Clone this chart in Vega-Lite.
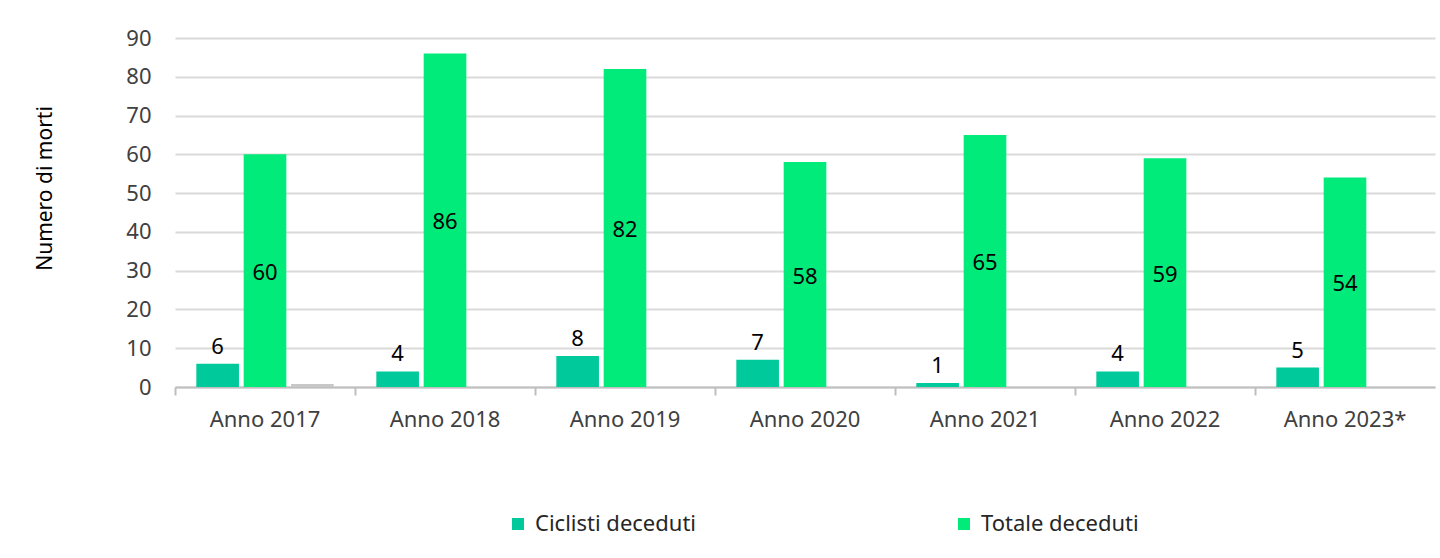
{
  "$schema": "https://vega.github.io/schema/vega-lite/v6.json",
  "width": 1260,
  "height": 349,
  "autosize": {"type": "none"},
  "padding": {"left": 175, "top": 38, "right": 5, "bottom": 171},
  "background": "white",
  "config": {"font": "Noto Sans", "view": {"stroke": null}},
  "data": {
    "values": [
      {"anno": "Anno 2017", "serie": "Ciclisti deceduti", "valore": 6},
      {"anno": "Anno 2017", "serie": "Totale deceduti", "valore": 60},
      {"anno": "Anno 2017", "serie": "Altro", "valore": 0.8},
      {"anno": "Anno 2018", "serie": "Ciclisti deceduti", "valore": 4},
      {"anno": "Anno 2018", "serie": "Totale deceduti", "valore": 86},
      {"anno": "Anno 2019", "serie": "Ciclisti deceduti", "valore": 8},
      {"anno": "Anno 2019", "serie": "Totale deceduti", "valore": 82},
      {"anno": "Anno 2020", "serie": "Ciclisti deceduti", "valore": 7},
      {"anno": "Anno 2020", "serie": "Totale deceduti", "valore": 58},
      {"anno": "Anno 2021", "serie": "Ciclisti deceduti", "valore": 1},
      {"anno": "Anno 2021", "serie": "Totale deceduti", "valore": 65},
      {"anno": "Anno 2022", "serie": "Ciclisti deceduti", "valore": 4},
      {"anno": "Anno 2022", "serie": "Totale deceduti", "valore": 59},
      {"anno": "Anno 2023*", "serie": "Ciclisti deceduti", "valore": 5},
      {"anno": "Anno 2023*", "serie": "Totale deceduti", "valore": 54}
    ]
  },
  "resolve": {"scale": {"y": "independent"}, "axis": {"y": "independent"}},
  "encoding": {
    "x": {
      "field": "anno",
      "type": "nominal",
      "sort": null,
      "scale": {"paddingInner": 0, "paddingOuter": 0},
      "axis": {
        "title": null,
        "labelAngle": 0,
        "labelFontSize": 22,
        "labelColor": "#404040",
        "labelPadding": 14,
        "domainColor": "#bfbfbf",
        "domainWidth": 2,
        "tickColor": "#bfbfbf",
        "tickWidth": 2,
        "tickSize": 8,
        "bandPosition": 0,
        "grid": false
      }
    },
    "xOffset": {
      "field": "serie",
      "type": "nominal",
      "scale": {
        "domain": ["Ciclisti deceduti", "Totale deceduti", "Altro"],
        "paddingInner": 0.1,
        "paddingOuter": 0.45
      }
    }
  },
  "layer": [
    {
      "mark": {"type": "bar"},
      "encoding": {
        "y": {
          "field": "valore",
          "type": "quantitative",
          "scale": {"domain": [0, 90], "nice": false},
          "axis": {
            "values": [0, 10, 20, 30, 40, 50, 60, 70, 80, 90],
            "tickCount": 10,
            "grid": true,
            "gridColor": "#d9d9d9",
            "gridWidth": 2,
            "domain": false,
            "ticks": false,
            "labelPadding": 24,
            "labelFontSize": 22,
            "labelColor": "#404040",
            "labelOverlap": false,
            "title": "Numero di morti",
            "titleFontSize": 21,
            "titleFontWeight": "normal",
            "titleColor": "#000000",
            "titleX": -130,
            "titleY": 150,
            "titleAngle": -90,
            "titleAlign": "center",
            "titleBaseline": "middle"
          }
        },
        "color": {
          "field": "serie",
          "type": "nominal",
          "scale": {
            "domain": ["Ciclisti deceduti", "Totale deceduti", "Altro"],
            "range": ["#00c99b", "#00eb79", "#c8c8c8"]
          },
          "legend": {
            "values": ["Ciclisti deceduti", "Totale deceduti"],
            "title": null,
            "orient": "none",
            "legendX": 332,
            "legendY": 475,
            "direction": "horizontal",
            "columns": 2,
            "columnPadding": 256,
            "padding": 0,
            "symbolType": "square",
            "symbolSize": 144,
            "symbolStrokeWidth": 0,
            "symbolOpacity": 1,
            "labelFontSize": 22,
            "labelColor": "#262626",
            "labelOffset": 6,
            "labelLimit": 400
          }
        }
      }
    },
    {
      "transform": [{"filter": "datum.serie === 'Totale deceduti'"}],
      "mark": {"type": "text", "fontSize": 22, "color": "#000000", "baseline": "middle", "dy": 2},
      "encoding": {
        "y": {"field": "valore", "type": "quantitative", "scale": {"domain": [0, 180], "nice": false}, "axis": null},
        "text": {"field": "valore", "type": "quantitative"}
      }
    },
    {
      "transform": [{"filter": "datum.serie === 'Ciclisti deceduti'"}],
      "mark": {"type": "text", "fontSize": 22, "color": "#000000", "baseline": "middle", "dy": -17},
      "encoding": {
        "y": {"field": "valore", "type": "quantitative", "scale": {"domain": [0, 90], "nice": false}, "axis": null},
        "text": {"field": "valore", "type": "quantitative"}
      }
    }
  ]
}
